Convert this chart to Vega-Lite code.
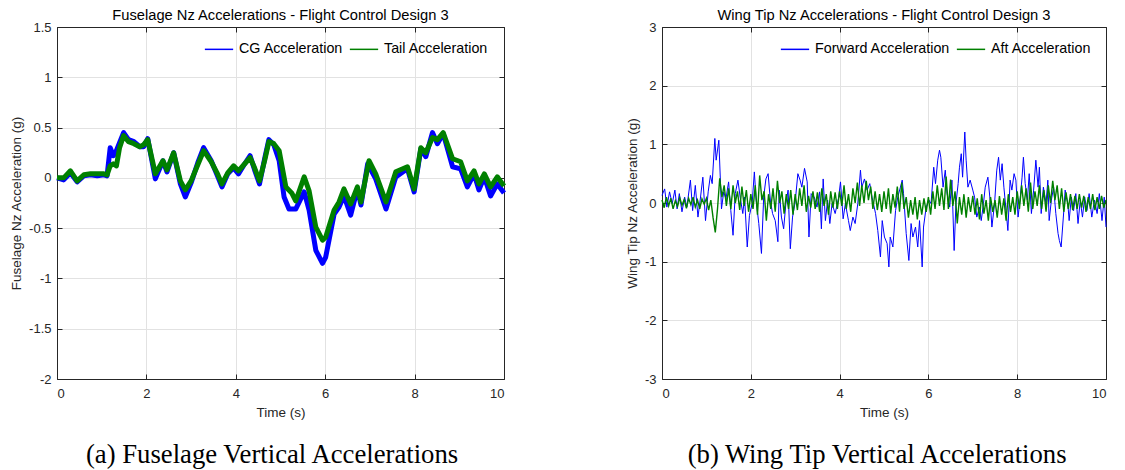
{
"$schema": "https://vega.github.io/schema/vega-lite/v6.json",
"padding": {"left": 9, "top": 8, "right": 5, "bottom": 0},
"background": "white",
"config": {
 "view": {"stroke": null},
 "axis": {"labelFont": "Liberation Sans", "titleFont": "Liberation Sans", "labelFontSize": 13, "titleFontSize": 13.5, "titleFontWeight": "normal", "labelColor": "#262626", "titleColor": "#262626", "domainColor": "#262626", "tickColor": "#262626", "gridColor": "#e2e2e2", "tickSize": -5, "labelPadding": 11, "titlePadding": 5},
 "axisBottom": {"labelPadding": 13},
 "legend": {"orient": "none", "direction": "horizontal", "title": null, "symbolType": "stroke", "symbolSize": 800, "symbolStrokeWidth": 1.5, "labelFont": "Liberation Sans", "labelFontSize": 14.3, "labelColor": "#000", "labelOffset": 5, "columnPadding": 2, "padding": 0}
},
"datasets": {
 "cg": [{"t":0,"v":0.0},{"t":0.15,"v":-0.02},{"t":0.3,"v":0.05},{"t":0.45,"v":-0.04},{"t":0.6,"v":0.02},{"t":0.75,"v":0.03},{"t":0.9,"v":0.02},{"t":1.05,"v":0.03},{"t":1.12,"v":0.02},{"t":1.19,"v":0.3},{"t":1.26,"v":0.22},{"t":1.31,"v":0.25},{"t":1.49,"v":0.45},{"t":1.6,"v":0.38},{"t":1.72,"v":0.36},{"t":1.85,"v":0.31},{"t":1.94,"v":0.31},{"t":2.03,"v":0.39},{"t":2.2,"v":-0.01},{"t":2.37,"v":0.17},{"t":2.46,"v":0.06},{"t":2.61,"v":0.25},{"t":2.76,"v":-0.06},{"t":2.87,"v":-0.19},{"t":3.0,"v":-0.05},{"t":3.15,"v":0.15},{"t":3.28,"v":0.3},{"t":3.45,"v":0.17},{"t":3.58,"v":0.03},{"t":3.69,"v":-0.09},{"t":3.82,"v":0.04},{"t":3.95,"v":0.1},{"t":4.06,"v":0.04},{"t":4.2,"v":0.14},{"t":4.32,"v":0.22},{"t":4.42,"v":0.08},{"t":4.53,"v":-0.06},{"t":4.65,"v":0.2},{"t":4.74,"v":0.38},{"t":4.85,"v":0.33},{"t":4.97,"v":0.17},{"t":5.08,"v":-0.19},{"t":5.19,"v":-0.31},{"t":5.34,"v":-0.31},{"t":5.53,"v":-0.14},{"t":5.64,"v":-0.32},{"t":5.79,"v":-0.72},{"t":5.94,"v":-0.85},{"t":6.01,"v":-0.79},{"t":6.2,"v":-0.36},{"t":6.31,"v":-0.29},{"t":6.42,"v":-0.18},{"t":6.57,"v":-0.37},{"t":6.72,"v":-0.11},{"t":6.8,"v":-0.27},{"t":6.95,"v":0.14},{"t":7.13,"v":-0.01},{"t":7.36,"v":-0.31},{"t":7.58,"v":0.01},{"t":7.84,"v":0.09},{"t":7.99,"v":-0.14},{"t":8.14,"v":0.29},{"t":8.25,"v":0.21},{"t":8.4,"v":0.45},{"t":8.51,"v":0.34},{"t":8.64,"v":0.44},{"t":8.85,"v":0.11},{"t":9.03,"v":0.09},{"t":9.18,"v":-0.09},{"t":9.33,"v":0.04},{"t":9.44,"v":-0.12},{"t":9.56,"v":0.01},{"t":9.7,"v":-0.18},{"t":9.85,"v":-0.06},{"t":10.0,"v":-0.15}],
 "tail": [{"t":0,"v":0.0},{"t":0.15,"v":0.0},{"t":0.3,"v":0.07},{"t":0.45,"v":-0.03},{"t":0.6,"v":0.03},{"t":0.75,"v":0.04},{"t":0.9,"v":0.04},{"t":1.05,"v":0.04},{"t":1.12,"v":0.03},{"t":1.19,"v":0.12},{"t":1.26,"v":0.14},{"t":1.33,"v":0.12},{"t":1.4,"v":0.3},{"t":1.49,"v":0.42},{"t":1.6,"v":0.36},{"t":1.72,"v":0.34},{"t":1.85,"v":0.31},{"t":1.94,"v":0.33},{"t":2.03,"v":0.38},{"t":2.2,"v":0.04},{"t":2.37,"v":0.17},{"t":2.46,"v":0.08},{"t":2.61,"v":0.25},{"t":2.76,"v":-0.03},{"t":2.87,"v":-0.12},{"t":3.0,"v":-0.03},{"t":3.15,"v":0.13},{"t":3.28,"v":0.27},{"t":3.45,"v":0.16},{"t":3.58,"v":0.05},{"t":3.69,"v":-0.06},{"t":3.82,"v":0.05},{"t":3.95,"v":0.12},{"t":4.06,"v":0.07},{"t":4.2,"v":0.14},{"t":4.32,"v":0.2},{"t":4.42,"v":0.1},{"t":4.53,"v":-0.03},{"t":4.65,"v":0.18},{"t":4.74,"v":0.36},{"t":4.85,"v":0.34},{"t":4.97,"v":0.27},{"t":5.12,"v":-0.09},{"t":5.25,"v":-0.15},{"t":5.34,"v":-0.23},{"t":5.53,"v":0.01},{"t":5.64,"v":-0.13},{"t":5.79,"v":-0.49},{"t":5.94,"v":-0.62},{"t":6.01,"v":-0.59},{"t":6.2,"v":-0.32},{"t":6.31,"v":-0.24},{"t":6.42,"v":-0.11},{"t":6.57,"v":-0.26},{"t":6.72,"v":-0.09},{"t":6.8,"v":-0.24},{"t":6.98,"v":0.17},{"t":7.13,"v":0.04},{"t":7.36,"v":-0.24},{"t":7.58,"v":0.06},{"t":7.84,"v":0.11},{"t":7.99,"v":-0.11},{"t":8.14,"v":0.3},{"t":8.25,"v":0.25},{"t":8.4,"v":0.4},{"t":8.51,"v":0.38},{"t":8.64,"v":0.45},{"t":8.85,"v":0.19},{"t":9.03,"v":0.16},{"t":9.18,"v":-0.03},{"t":9.33,"v":0.07},{"t":9.44,"v":-0.06},{"t":9.56,"v":0.04},{"t":9.7,"v":-0.09},{"t":9.85,"v":0.01},{"t":10.0,"v":-0.08}],
 "fwd": [{"t":0,"v":0.13},{"t":0.06,"v":0.24},{"t":0.11,"v":-0.07},{"t":0.17,"v":0.19},{"t":0.23,"v":-0.01},{"t":0.29,"v":0.22},{"t":0.34,"v":-0.1},{"t":0.39,"v":0.16},{"t":0.45,"v":-0.15},{"t":0.51,"v":0.1},{"t":0.56,"v":-0.07},{"t":0.64,"v":0.39},{"t":0.69,"v":-0.13},{"t":0.75,"v":0.3},{"t":0.81,"v":-0.24},{"t":0.86,"v":0.05},{"t":0.92,"v":0.44},{"t":0.98,"v":-0.3},{"t":1.04,"v":0.19},{"t":1.09,"v":0.47},{"t":1.13,"v":0.33},{"t":1.19,"v":1.1},{"t":1.22,"v":0.73},{"t":1.28,"v":1.07},{"t":1.34,"v":-0.1},{"t":1.39,"v":0.19},{"t":1.44,"v":0.07},{"t":1.5,"v":0.36},{"t":1.55,"v":-0.13},{"t":1.6,"v":-0.55},{"t":1.65,"v":0.16},{"t":1.71,"v":0.39},{"t":1.76,"v":0.1},{"t":1.82,"v":-0.18},{"t":1.86,"v":0.1},{"t":1.92,"v":-0.75},{"t":1.97,"v":-0.21},{"t":2.03,"v":-0.01},{"t":2.08,"v":0.53},{"t":2.12,"v":0.05},{"t":2.18,"v":-0.35},{"t":2.24,"v":-0.86},{"t":2.29,"v":0.1},{"t":2.34,"v":0.41},{"t":2.39,"v":0.5},{"t":2.44,"v":0.05},{"t":2.49,"v":-0.18},{"t":2.55,"v":-0.3},{"t":2.61,"v":-0.66},{"t":2.64,"v":0.22},{"t":2.69,"v":-0.24},{"t":2.74,"v":-0.44},{"t":2.79,"v":-0.01},{"t":2.84,"v":0.22},{"t":2.89,"v":-0.78},{"t":2.94,"v":-0.24},{"t":3.0,"v":0.02},{"t":3.06,"v":0.5},{"t":3.11,"v":0.39},{"t":3.15,"v":0.27},{"t":3.21,"v":0.59},{"t":3.27,"v":0.36},{"t":3.31,"v":-0.58},{"t":3.36,"v":0.16},{"t":3.43,"v":0.1},{"t":3.49,"v":-0.07},{"t":3.55,"v":0.19},{"t":3.59,"v":-0.44},{"t":3.63,"v":0.41},{"t":3.68,"v":-0.3},{"t":3.73,"v":0.05},{"t":3.78,"v":-0.35},{"t":3.83,"v":-0.01},{"t":3.9,"v":-0.18},{"t":3.98,"v":0.1},{"t":4.02,"v":0.36},{"t":4.08,"v":-0.27},{"t":4.13,"v":-0.01},{"t":4.2,"v":-0.3},{"t":4.24,"v":-0.47},{"t":4.3,"v":-0.24},{"t":4.35,"v":-0.35},{"t":4.41,"v":-0.01},{"t":4.47,"v":0.56},{"t":4.5,"v":0.27},{"t":4.56,"v":0.41},{"t":4.62,"v":0.22},{"t":4.68,"v":0.33},{"t":4.73,"v":0.1},{"t":4.81,"v":-0.18},{"t":4.86,"v":-0.47},{"t":4.92,"v":-0.92},{"t":4.96,"v":-0.3},{"t":5.01,"v":-0.58},{"t":5.07,"v":-0.69},{"t":5.11,"v":-1.09},{"t":5.14,"v":-0.58},{"t":5.2,"v":-0.75},{"t":5.26,"v":-0.13},{"t":5.31,"v":0.1},{"t":5.37,"v":0.27},{"t":5.41,"v":0.39},{"t":5.44,"v":0.16},{"t":5.5,"v":-0.52},{"t":5.56,"v":-0.98},{"t":5.61,"v":-0.35},{"t":5.65,"v":-0.58},{"t":5.71,"v":-0.41},{"t":5.76,"v":-0.75},{"t":5.8,"v":-0.3},{"t":5.86,"v":-1.09},{"t":5.89,"v":-0.41},{"t":5.95,"v":-0.07},{"t":6.01,"v":0.05},{"t":6.06,"v":-0.01},{"t":6.12,"v":0.61},{"t":6.16,"v":0.33},{"t":6.21,"v":0.73},{"t":6.25,"v":0.9},{"t":6.28,"v":0.78},{"t":6.33,"v":0.27},{"t":6.38,"v":0.56},{"t":6.42,"v":0.16},{"t":6.48,"v":-0.07},{"t":6.53,"v":0.39},{"t":6.58,"v":-0.81},{"t":6.62,"v":-0.01},{"t":6.67,"v":0.33},{"t":6.7,"v":0.61},{"t":6.74,"v":0.84},{"t":6.77,"v":0.44},{"t":6.82,"v":1.21},{"t":6.85,"v":0.73},{"t":6.89,"v":0.27},{"t":6.94,"v":0.39},{"t":7.0,"v":0.22},{"t":7.04,"v":0.1},{"t":7.09,"v":-0.24},{"t":7.15,"v":-0.07},{"t":7.19,"v":-0.3},{"t":7.24,"v":-0.01},{"t":7.28,"v":0.27},{"t":7.34,"v":0.44},{"t":7.39,"v":0.05},{"t":7.43,"v":-0.41},{"t":7.49,"v":-0.01},{"t":7.54,"v":0.56},{"t":7.58,"v":0.78},{"t":7.62,"v":0.39},{"t":7.66,"v":0.67},{"t":7.7,"v":0.27},{"t":7.75,"v":-0.13},{"t":7.79,"v":-0.47},{"t":7.84,"v":0.39},{"t":7.88,"v":0.22},{"t":7.93,"v":0.5},{"t":7.97,"v":0.39},{"t":8.02,"v":-0.24},{"t":8.07,"v":0.1},{"t":8.11,"v":0.44},{"t":8.14,"v":0.78},{"t":8.18,"v":0.33},{"t":8.23,"v":0.05},{"t":8.27,"v":0.5},{"t":8.32,"v":-0.18},{"t":8.37,"v":0.22},{"t":8.42,"v":0.73},{"t":8.47,"v":0.27},{"t":8.5,"v":0.61},{"t":8.54,"v":-0.18},{"t":8.59,"v":0.27},{"t":8.65,"v":-0.01},{"t":8.69,"v":0.39},{"t":8.72,"v":-0.3},{"t":8.77,"v":0.05},{"t":8.82,"v":0.27},{"t":8.87,"v":-0.18},{"t":8.92,"v":-0.52},{"t":8.95,"v":-0.64},{"t":8.99,"v":-0.75},{"t":9.05,"v":-0.13},{"t":9.08,"v":0.22},{"t":9.14,"v":-0.01},{"t":9.17,"v":-0.3},{"t":9.22,"v":0.1},{"t":9.27,"v":-0.13},{"t":9.32,"v":0.16},{"t":9.37,"v":-0.35},{"t":9.42,"v":0.05},{"t":9.47,"v":-0.24},{"t":9.52,"v":0.1},{"t":9.57,"v":-0.13},{"t":9.62,"v":0.16},{"t":9.68,"v":-0.24},{"t":9.74,"v":0.05},{"t":9.8,"v":-0.18},{"t":9.85,"v":0.16},{"t":9.91,"v":-0.3},{"t":9.96,"v":0.1},{"t":10.0,"v":-0.41}],
 "aft": [{"t":0,"v":0.05},{"t":0.05,"v":-0.08},{"t":0.1,"v":0.1},{"t":0.15,"v":-0.05},{"t":0.2,"v":0.08},{"t":0.25,"v":-0.1},{"t":0.3,"v":0.04},{"t":0.35,"v":-0.06},{"t":0.4,"v":0.09},{"t":0.45,"v":-0.04},
 {"t":0.5,"v":0.06},{"t":0.55,"v":-0.09},{"t":0.6,"v":0.08},{"t":0.65,"v":-0.03},{"t":0.7,"v":0.1},{"t":0.75,"v":-0.07},{"t":0.8,"v":0.05},{"t":0.85,"v":-0.1},{"t":0.9,"v":0.07},{"t":0.95,"v":-0.02},
 {"t":1.0,"v":0.08},{"t":1.05,"v":-0.12},{"t":1.1,"v":0.05},{"t":1.15,"v":-0.25},{"t":1.2,"v":-0.5},{"t":1.25,"v":-0.1},{"t":1.3,"v":0.42},{"t":1.35,"v":0.1},{"t":1.4,"v":0.3},{"t":1.45,"v":-0.05},
 {"t":1.5,"v":0.25},{"t":1.55,"v":-0.1},{"t":1.6,"v":0.3},{"t":1.65,"v":0.0},{"t":1.7,"v":0.2},{"t":1.75,"v":-0.12},{"t":1.8,"v":0.28},{"t":1.85,"v":-0.05},{"t":1.9,"v":0.22},{"t":1.95,"v":-0.15},
 {"t":2.0,"v":0.15},{"t":2.05,"v":-0.1},{"t":2.1,"v":0.3},{"t":2.15,"v":-0.2},{"t":2.2,"v":0.47},{"t":2.25,"v":0.05},{"t":2.3,"v":0.2},{"t":2.35,"v":-0.3},{"t":2.4,"v":0.15},{"t":2.45,"v":-0.1},
 {"t":2.5,"v":0.25},{"t":2.55,"v":-0.15},{"t":2.6,"v":0.38},{"t":2.65,"v":0.0},{"t":2.7,"v":0.2},{"t":2.75,"v":-0.18},{"t":2.8,"v":0.15},{"t":2.85,"v":-0.1},{"t":2.9,"v":0.22},{"t":2.95,"v":-0.2},
 {"t":3.0,"v":0.15},{"t":3.05,"v":-0.12},{"t":3.1,"v":0.25},{"t":3.15,"v":-0.05},{"t":3.2,"v":0.3},{"t":3.25,"v":-0.15},{"t":3.3,"v":0.12},{"t":3.35,"v":-0.08},{"t":3.4,"v":0.2},{"t":3.45,"v":-0.1},
 {"t":3.5,"v":0.18},{"t":3.55,"v":-0.15},{"t":3.6,"v":0.25},{"t":3.65,"v":-0.05},{"t":3.7,"v":0.15},{"t":3.75,"v":-0.2},{"t":3.8,"v":0.2},{"t":3.85,"v":-0.08},{"t":3.9,"v":0.18},{"t":3.95,"v":-0.1},
 {"t":4.0,"v":0.2},{"t":4.05,"v":-0.05},{"t":4.1,"v":0.3},{"t":4.15,"v":-0.1},{"t":4.2,"v":0.15},{"t":4.25,"v":-0.15},{"t":4.3,"v":0.25},{"t":4.35,"v":0.0},{"t":4.4,"v":0.35},{"t":4.45,"v":-0.05},
 {"t":4.5,"v":0.3},{"t":4.55,"v":0.0},{"t":4.6,"v":0.38},{"t":4.65,"v":0.05},{"t":4.7,"v":0.28},{"t":4.75,"v":-0.1},{"t":4.8,"v":0.2},{"t":4.85,"v":-0.12},{"t":4.9,"v":0.15},{"t":4.95,"v":-0.15},
 {"t":5.0,"v":0.2},{"t":5.05,"v":-0.1},{"t":5.1,"v":0.25},{"t":5.15,"v":-0.18},{"t":5.2,"v":0.15},{"t":5.25,"v":-0.08},{"t":5.3,"v":0.28},{"t":5.35,"v":-0.15},{"t":5.4,"v":0.35},{"t":5.45,"v":-0.1},
 {"t":5.5,"v":0.1},{"t":5.55,"v":-0.25},{"t":5.6,"v":0.05},{"t":5.65,"v":-0.2},{"t":5.7,"v":0.1},{"t":5.75,"v":-0.28},{"t":5.8,"v":0.05},{"t":5.85,"v":-0.2},{"t":5.9,"v":0.08},{"t":5.95,"v":-0.15},
 {"t":6.0,"v":0.1},{"t":6.05,"v":-0.2},{"t":6.1,"v":0.2},{"t":6.15,"v":-0.1},{"t":6.2,"v":0.3},{"t":6.25,"v":-0.05},{"t":6.3,"v":0.25},{"t":6.35,"v":-0.12},{"t":6.4,"v":0.45},{"t":6.45,"v":-0.1},
 {"t":6.5,"v":0.4},{"t":6.55,"v":-0.05},{"t":6.6,"v":0.2},{"t":6.65,"v":-0.35},{"t":6.7,"v":0.1},{"t":6.75,"v":-0.2},{"t":6.8,"v":0.15},{"t":6.85,"v":-0.25},{"t":6.9,"v":0.1},{"t":6.95,"v":-0.15},
 {"t":7.0,"v":0.12},{"t":7.05,"v":-0.2},{"t":7.1,"v":0.08},{"t":7.15,"v":-0.28},{"t":7.2,"v":0.15},{"t":7.25,"v":-0.18},{"t":7.3,"v":0.05},{"t":7.35,"v":-0.3},{"t":7.4,"v":0.1},{"t":7.45,"v":-0.15},
 {"t":7.5,"v":0.05},{"t":7.55,"v":-0.25},{"t":7.6,"v":0.12},{"t":7.65,"v":-0.2},{"t":7.7,"v":0.08},{"t":7.75,"v":-0.3},{"t":7.8,"v":0.15},{"t":7.85,"v":-0.15},{"t":7.9,"v":0.1},{"t":7.95,"v":-0.2},
 {"t":8.0,"v":0.2},{"t":8.05,"v":-0.1},{"t":8.1,"v":0.3},{"t":8.15,"v":-0.05},{"t":8.2,"v":0.25},{"t":8.25,"v":-0.15},{"t":8.3,"v":0.35},{"t":8.35,"v":-0.1},{"t":8.4,"v":0.2},{"t":8.45,"v":-0.05},
 {"t":8.5,"v":0.3},{"t":8.55,"v":-0.1},{"t":8.6,"v":0.22},{"t":8.65,"v":-0.15},{"t":8.7,"v":0.3},{"t":8.75,"v":0.0},{"t":8.8,"v":0.38},{"t":8.85,"v":0.05},{"t":8.9,"v":0.3},{"t":8.95,"v":-0.1},
 {"t":9.0,"v":0.25},{"t":9.05,"v":-0.15},{"t":9.1,"v":0.18},{"t":9.15,"v":-0.1},{"t":9.2,"v":0.15},{"t":9.25,"v":-0.12},{"t":9.3,"v":0.12},{"t":9.35,"v":-0.1},{"t":9.4,"v":0.15},{"t":9.45,"v":-0.08},
 {"t":9.5,"v":0.12},{"t":9.55,"v":-0.15},{"t":9.6,"v":0.1},{"t":9.65,"v":-0.1},{"t":9.7,"v":0.15},{"t":9.75,"v":-0.12},{"t":9.8,"v":0.1},{"t":9.85,"v":-0.1},{"t":9.9,"v":0.12},{"t":9.95,"v":-0.08},{"t":10.0,"v":0.05}]
},
"spacing": 118,
"resolve": {"scale": {"color": "independent"}, "legend": {"color": "independent"}},
"hconcat": [
 {
  "title": {"text": "(a) Fuselage Vertical Accelerations", "orient": "bottom", "anchor": "middle", "font": "Liberation Serif", "fontSize": 26.7, "fontWeight": "normal", "color": "#000", "offset": 23, "dx": 14},
  "resolve": {"scale": {"color": "independent"}, "legend": {"color": "independent"}},
  "vconcat": [
   {
    "width": 447, "height": 352,
    "title": {"text": "Fuselage Nz Accelerations - Flight Control Design 3", "font": "Liberation Sans", "fontSize": 14.7, "fontWeight": "normal", "color": "#000", "offset": -2},
    "layer": [
     {"data": {"name": "cg"}, "mark": {"type": "line", "strokeWidth": 5, "strokeJoin": "round"},
      "encoding": {
       "x": {"field": "t", "type": "quantitative", "scale": {"domain": [0, 10], "nice": false}, "axis": {"title": "Time (s)", "values": [0,2,4,6,8,10], "grid": true}},
       "y": {"field": "v", "type": "quantitative", "scale": {"domain": [-2, 1.5], "nice": false}, "axis": {"title": "Fuselage Nz Acceleration (g)", "values": [-2,-1.5,-1,-0.5,0,0.5,1,1.5], "labelExpr": "'' + datum.value", "grid": true}},
       "color": {"datum": "CG Acceleration", "type": "nominal", "scale": {"domain": ["CG Acceleration", "Tail Acceleration"], "range": ["#0000ff", "#008000"]}, "legend": {"legendX": 147, "legendY": 7}}
      }},
     {"data": {"name": "tail"}, "mark": {"type": "line", "strokeWidth": 5, "strokeJoin": "round"},
      "encoding": {
       "x": {"field": "t", "type": "quantitative", "axis": {"orient": "top", "title": null, "labels": false, "grid": false, "values": [0,2,4,6,8,10]}},
       "y": {"field": "v", "type": "quantitative", "axis": {"orient": "right", "title": null, "labels": false, "grid": false, "values": [-2,-1.5,-1,-0.5,0,0.5,1,1.5]}},
       "color": {"datum": "Tail Acceleration", "type": "nominal"}
      }}
    ],
    "resolve": {"axis": {"x": "independent", "y": "independent"}}
   }
  ]
 },
 {
  "title": {"text": "(b) Wing Tip Vertical Accelerations", "orient": "bottom", "anchor": "middle", "font": "Liberation Serif", "fontSize": 26.7, "fontWeight": "normal", "color": "#000", "offset": 23, "dx": 10},
  "resolve": {"scale": {"color": "independent"}, "legend": {"color": "independent"}},
  "vconcat": [
   {
    "width": 444, "height": 352,
    "title": {"text": "Wing Tip Nz Accelerations - Flight Control Design 3", "font": "Liberation Sans", "fontSize": 14.7, "fontWeight": "normal", "color": "#000", "offset": -2},
    "layer": [
     {"data": {"name": "fwd"}, "mark": {"type": "line", "strokeWidth": 1},
      "encoding": {
       "x": {"field": "t", "type": "quantitative", "scale": {"domain": [0, 10], "nice": false}, "axis": {"title": "Time (s)", "values": [0,2,4,6,8,10], "grid": true}},
       "y": {"field": "v", "type": "quantitative", "scale": {"domain": [-3, 3], "nice": false}, "axis": {"title": "Wing Tip Nz Acceleration (g)", "values": [-3,-2,-1,0,1,2,3], "labelExpr": "'' + datum.value", "grid": true}},
       "color": {"datum": "Forward Acceleration", "type": "nominal", "scale": {"domain": ["Forward Acceleration", "Aft Acceleration"], "range": ["#0000ff", "#008000"]}, "legend": {"legendX": 118, "legendY": 7}}
      }},
     {"data": {"name": "aft"}, "mark": {"type": "line", "strokeWidth": 1.4},
      "encoding": {
       "x": {"field": "t", "type": "quantitative", "axis": {"orient": "top", "title": null, "labels": false, "grid": false, "values": [0,2,4,6,8,10]}},
       "y": {"field": "v", "type": "quantitative", "axis": {"orient": "right", "title": null, "labels": false, "grid": false, "values": [-3,-2,-1,0,1,2,3]}},
       "color": {"datum": "Aft Acceleration", "type": "nominal"}
      }}
    ],
    "resolve": {"axis": {"x": "independent", "y": "independent"}}
   }
  ]
 }
]
}
